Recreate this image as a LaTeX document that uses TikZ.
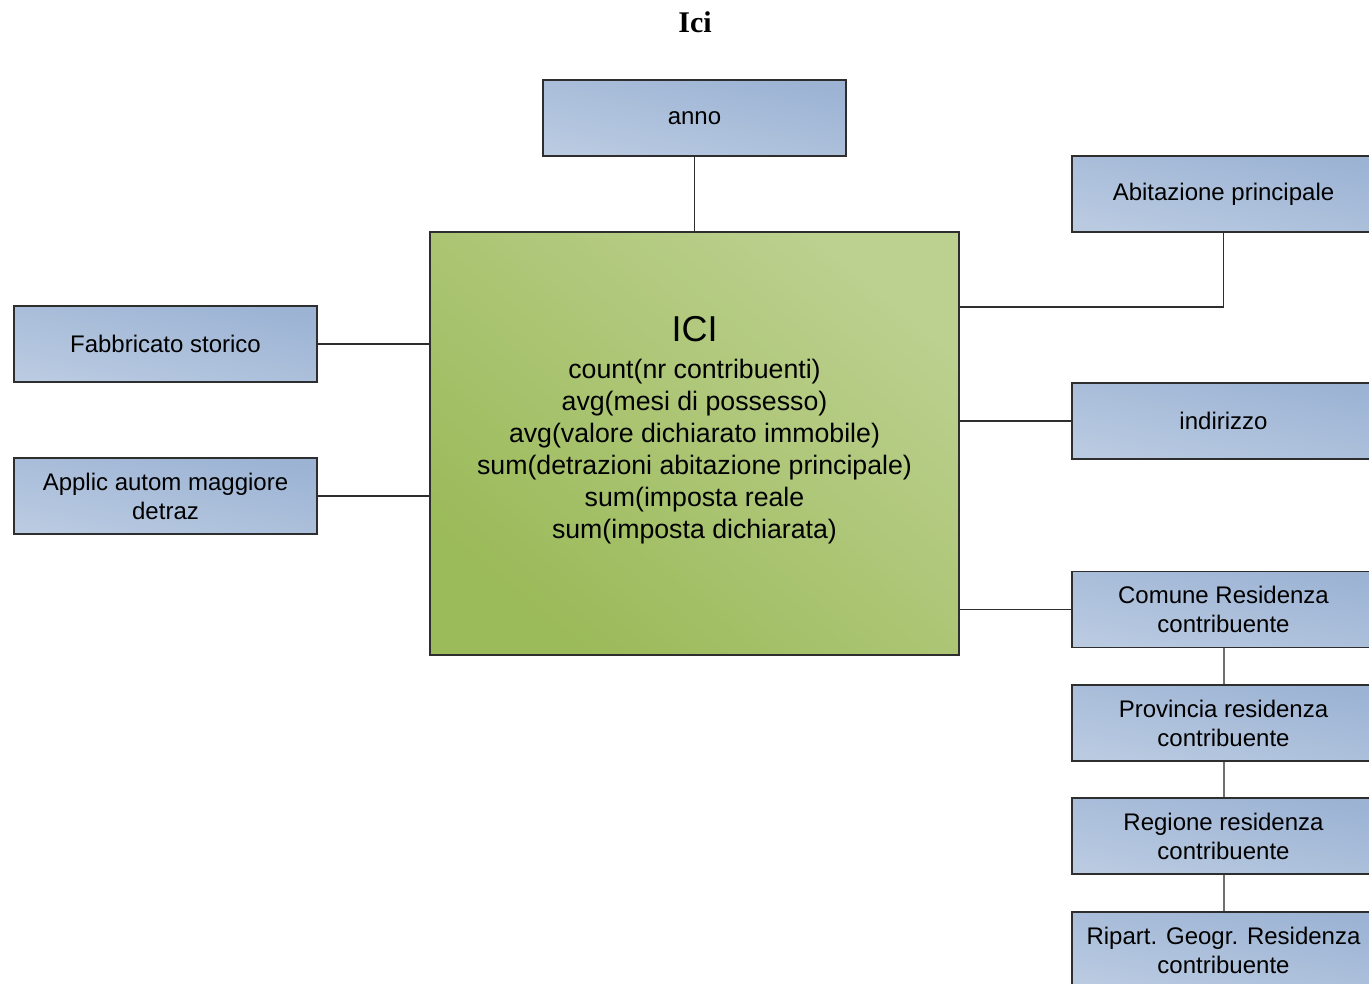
\documentclass[tikz,border=0pt]{standalone}
\usepackage{fontspec}
\setmainfont{Liberation Sans}
\newfontfamily\titlefont{Liberation Serif}
\definecolor{bluedark}{HTML}{9CB3D4}
\definecolor{bluelight}{HTML}{B9CAE1}
\definecolor{greendark}{HTML}{9BBA59}
\definecolor{greenmid}{HTML}{A1BF62}
\definecolor{greenlight}{HTML}{BCD08F}
\definecolor{edge}{HTML}{2E2E2E}
\definecolor{linkgray}{HTML}{707070}
\begin{document}
\begin{tikzpicture}[x=1pt,y=-1pt,
  bluebox/.style={draw=edge, line width=1.2pt, rectangle,
    minimum width=303, minimum height=76, inner sep=2pt,
    top color=bluedark, bottom color=bluelight, shading angle=-12,
    align=center, font=\fontsize{24}{29}\selectfont},
  greenbox/.style={draw=edge, line width=1.2pt, rectangle,
    minimum width=529, minimum height=423, inner sep=0pt,
    top color=greenlight, middle color=greenmid, bottom color=greendark,
    shading angle=-40},
  conn/.style={draw=edge, line width=1.1pt},
  chain/.style={draw=linkgray, line width=2pt}]
\useasboundingbox (0,0) rectangle (1369,984);
\clip (0,0) rectangle (1369,984);

% heading
\node[font=\titlefont\bfseries\fontsize{30}{34}\selectfont] (title) at (695,22) {Ici};

% fact table
\node[greenbox] (ici) at (694.5,443.5) {};
\node[align=center, inner sep=0pt, font=\fontsize{26.7}{32}\selectfont] (icitxt) at (694.5,430)
  {{\fontsize{36}{40}\selectfont ICI}\\[5pt]
   count(nr contribuenti)\\
   avg(mesi di possesso)\\
   avg(valore dichiarato immobile)\\
   sum(detrazioni abitazione principale)\\
   sum(imposta reale\\
   sum(imposta dichiarata)};

% dimensions
\node[bluebox] (anno) at (694.5,118) {anno};
\node[bluebox] (abit) at (1223.5,194) {Abitazione principale};
\node[bluebox] (ind) at (1223.5,421) {indirizzo};
\node[bluebox] (comune) at (1223.5,609.5) {Comune Residenza\\contribuente};
\node[bluebox] (prov) at (1223.5,723) {Provincia residenza\\contribuente};
\node[bluebox] (reg) at (1223.5,836) {Regione residenza\\contribuente};
\node[bluebox] (ripart) at (1223.5,950) {Ripart. Geogr. Residenza\\contribuente};
\node[bluebox] (fabb) at (165.5,344) {Fabbricato storico};
\node[bluebox] (applic) at (165.5,496) {Applic autom maggiore\\detraz};

% links
\coordinate (abitrow) at (0,307);
\draw[conn] (anno.south) -- (ici.north);
\draw[conn] (ici.east |- abitrow) -| (abit.south);
\draw[conn] (ici.east |- ind.west) -- (ind.west);
\draw[conn] (ici.east |- comune.west) -- (comune.west);
\draw[conn] (fabb.east) -- (fabb.east -| ici.west);
\draw[conn] (applic.east) -- (applic.east -| ici.west);
\draw[chain] (comune.south) -- (prov.north);
\draw[chain] (prov.south) -- (reg.north);
\draw[chain] (reg.south) -- (ripart.north);
\end{tikzpicture}
\end{document}
